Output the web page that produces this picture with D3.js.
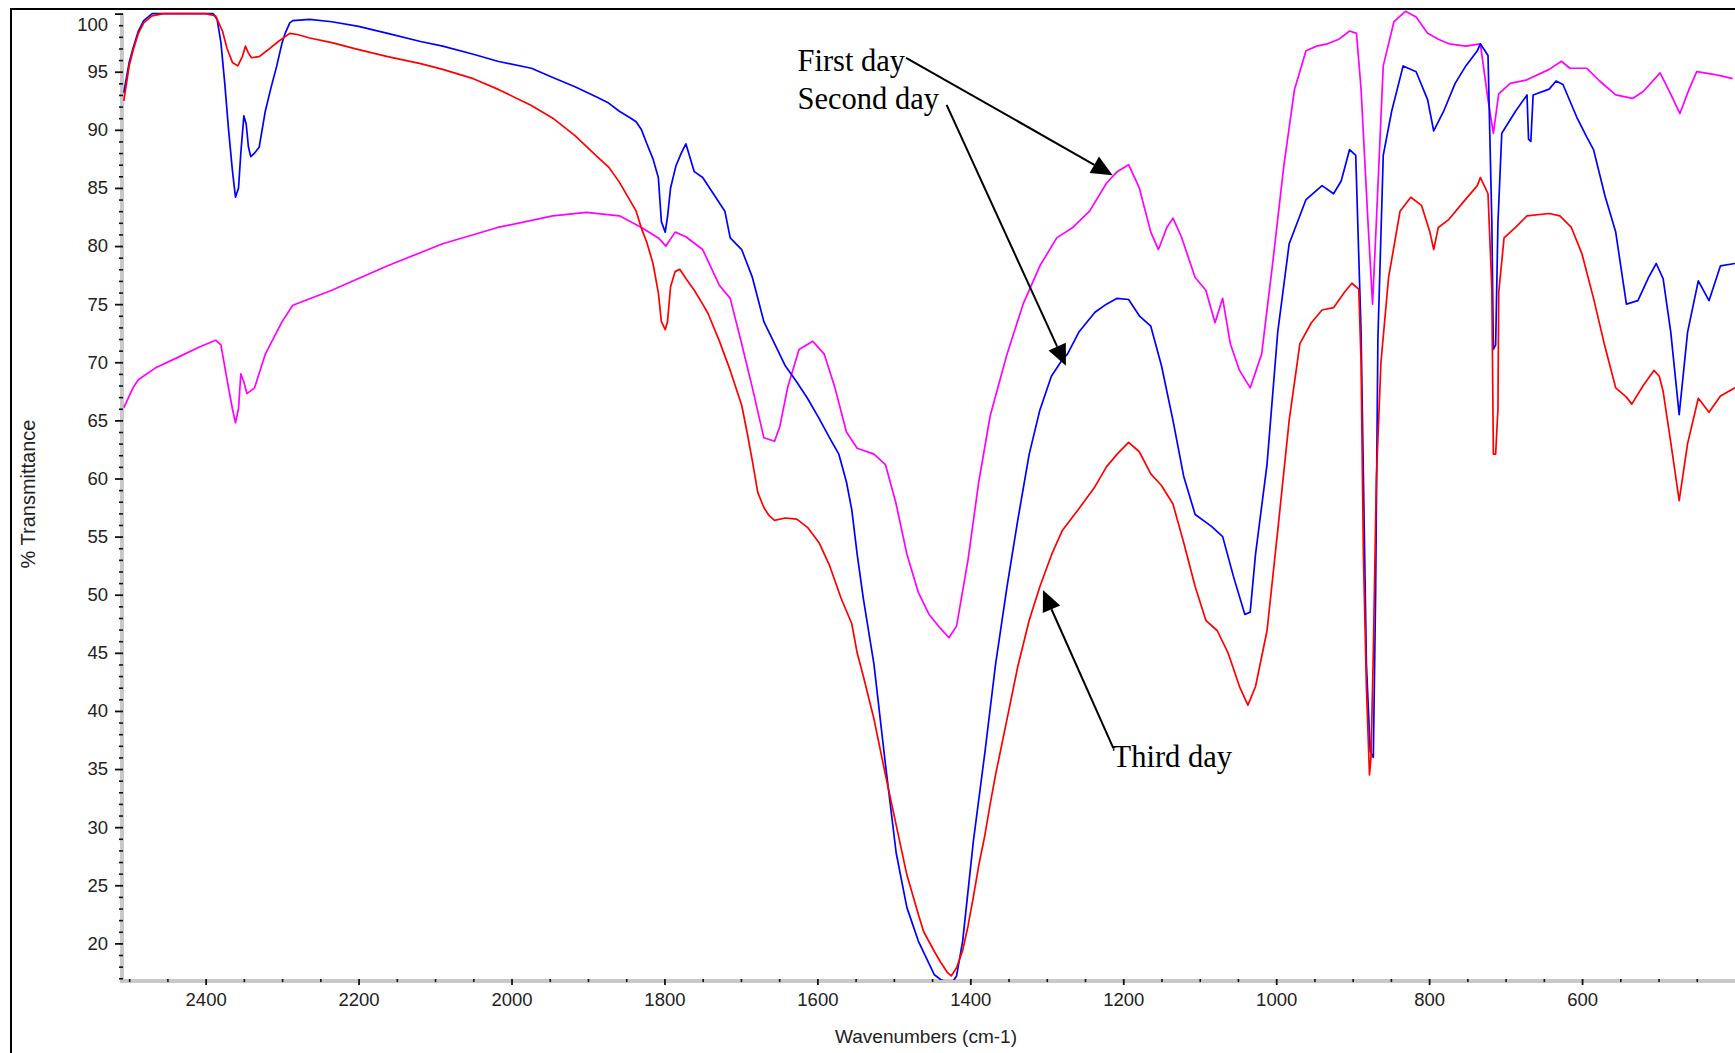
<!DOCTYPE html>
<html>
<head>
<meta charset="utf-8">
<script src="https://cdn.jsdelivr.net/npm/d3@7/dist/d3.min.js"></script>
<style>
  html, body { margin: 0; padding: 0; background: #fff; }
  svg { display: block; }
</style>
</head>
<body>
<svg id="chart" width="1735" height="1053"></svg>
<script>
// ---------------- DATA ----------------
const xMajorTicks = [2400, 2200, 2000, 1800, 1600, 1400, 1200, 1000, 800, 600];
const yMajorTicks = [20, 25, 30, 35, 40, 45, 50, 55, 60, 65, 70, 75, 80, 85, 90, 95, 100];
const xTitle = "Wavenumbers (cm-1)";
const yTitle = "% Transmittance";
const seriesNames = ["First day", "Second day", "Third day"];

// [wavenumber cm-1, %T]
const firstDay = [
  [2507,66.1],[2495,67.8],[2488,68.5],[2466,69.5],[2437,70.4],[2409,71.3],[2387,71.9],[2380,71.5],
  [2372,68.5],[2365,66],[2361,64.8],[2357,66],[2354,69],[2350,68.3],[2346,67.3],[2336,67.8],
  [2322,70.7],[2300,73.5],[2286,74.9],[2235,76.2],[2162,78.3],[2090,80.2],[2018,81.6],[1946,82.6],
  [1902,82.9],[1859,82.6],[1830,81.6],[1808,80.7],[1798,80],[1786,81.2],[1772,80.8],[1750,79.7],
  [1728,76.6],[1714,75.5],[1699,71.6],[1685,67.8],[1670,63.5],[1656,63.2],[1649,64.5],[1639,67.8],
  [1624,71.1],[1606,71.8],[1591,70.7],[1577,67.8],[1562,64],[1548,62.6],[1526,62.1],[1511,61.2],
  [1497,57.8],[1483,53.5],[1468,50.2],[1454,48.3],[1439,47.1],[1428,46.3],[1418,47.3],[1403,53],
  [1389,59.7],[1374,65.4],[1352,70.7],[1331,75],[1309,78.3],[1287,80.7],[1266,81.6],[1244,83],
  [1222,85.4],[1208,86.4],[1193,87],[1179,85],[1164,81.2],[1154,79.7],[1143,81.6],[1135,82.4],
  [1124,80.8],[1106,77.3],[1092,76.2],[1080,73.4],[1070,75.5],[1060,71.6],[1048,69.3],[1034,67.8],
  [1019,70.7],[1005,78.3],[990,86.9],[976,93.5],[961,96.8],[947,97.2],[933,97.4],[918,97.8],
  [904,98.5],[895,98.3],[889,93.5],[880,82.1],[874,75],[869,82.1],[860,95.5],[846,99.3],
  [831,100.2],[817,99.7],[802,98.3],[788,97.8],[774,97.4],[752,97.2],[733,97.4],[723,92.6],
  [716,89.7],[709,93.1],[694,94],[672,94.3],[643,95.2],[627,95.9],[616,95.3],[594,95.3],
  [577,94.2],[556,93],[534,92.7],[520,93.3],[498,94.9],[485,93.2],[472,91.4],[460,93.5],
  [450,95],[430,94.8],[415,94.6],[403,94.4]
];

const secondDay = [
  [2507,93.2],[2500,95.8],[2495,97],[2488,98.5],[2481,99.4],[2470,100],[2455,100],[2400,100],
  [2390,100],[2385,99.5],[2380,97.5],[2375,94],[2370,90],[2365,86.5],[2361,84.2],[2357,85],
  [2354,88],[2350,91.2],[2347,90.5],[2344,88.5],[2341,87.7],[2336,88],[2330,88.5],[2322,91.6],
  [2315,93.5],[2307,95.5],[2300,97.5],[2296,98.3],[2290,99.2],[2286,99.4],[2264,99.5],[2235,99.3],
  [2200,98.9],[2162,98.3],[2119,97.6],[2090,97.2],[2050,96.5],[2018,95.9],[1974,95.3],[1946,94.5],
  [1917,93.7],[1888,92.8],[1873,92.3],[1859,91.6],[1844,91],[1837,90.7],[1830,90],[1823,88.8],
  [1815,87.5],[1808,85.9],[1804,82.1],[1799,81.2],[1796,82.5],[1792,85],[1785,86.9],[1778,88],
  [1772,88.8],[1766,87.5],[1761,86.4],[1750,85.9],[1736,84.5],[1721,83],[1714,80.7],[1699,79.7],
  [1685,77.3],[1670,73.5],[1656,71.6],[1642,69.7],[1627,68.3],[1613,66.9],[1598,65.2],[1584,63.5],
  [1572,62.1],[1562,59.7],[1555,57.3],[1548,53.5],[1540,49.7],[1526,44],[1511,35.4],[1497,27.8],
  [1483,23.1],[1468,20.2],[1447,17.3],[1439,16.9],[1425,16.5],[1418,17.2],[1410,20.2],[1396,28.8],
  [1381,36.4],[1367,44],[1352,50.7],[1338,56.4],[1323,62.1],[1309,65.9],[1294,68.8],[1280,70.2],
  [1273,70.7],[1258,72.6],[1237,74.3],[1222,75],[1208,75.5],[1193,75.4],[1179,74],[1164,73.1],
  [1150,69.7],[1135,65],[1121,60.2],[1106,56.9],[1085,55.9],[1070,55],[1056,51.6],[1041,48.3],
  [1034,48.5],[1027,53.5],[1012,61.2],[998,72.6],[983,80.2],[961,84],[940,85.2],[925,84.5],
  [915,85.6],[904,88.3],[896,87.8],[889,72.6],[882,44],[877,36.5],[873,36],[870,50],
  [867,72],[860,87.8],[849,91.6],[834,95.5],[817,95],[802,92.6],[794,89.9],[781,91.6],
  [766,94],[752,95.5],[737,96.8],[733,97.4],[723,96.4],[718,82.1],[716,71.1],[713,71.5],
  [710,82],[705,89.7],[687,91.6],[672,93],[670,89.2],[667,89],[664,93],[643,93.5],
  [634,94.2],[625,93.9],[607,91.1],[594,89.4],[585,88.3],[570,84.3],[556,81.2],[542,75],
  [527,75.3],[513,77.3],[503,78.5],[494,77.2],[484,72.6],[473,65.5],[462,72.6],[448,77],
  [434,75.3],[419,78.3],[400,78.5]
];

const thirdDay = [
  [2507,92.5],[2500,95.5],[2495,96.8],[2488,98.3],[2481,99.2],[2470,99.8],[2455,100],[2420,100],
  [2400,100],[2387,99.8],[2378,98.5],[2372,97],[2365,95.8],[2358,95.5],[2352,96.3],[2348,97.2],
  [2344,96.6],[2340,96.2],[2330,96.3],[2320,96.8],[2305,97.6],[2290,98.3],[2280,98.2],[2264,97.9],
  [2235,97.5],[2200,96.9],[2162,96.3],[2119,95.7],[2090,95.2],[2050,94.4],[2018,93.5],[1974,92.1],
  [1946,91],[1917,89.5],[1888,87.7],[1873,86.8],[1859,85.5],[1844,83.8],[1837,83],[1830,81.5],
  [1823,80.3],[1815,78.5],[1808,76],[1804,73.5],[1799,72.8],[1796,73.5],[1792,76.5],[1786,77.8],
  [1780,78],[1772,77.2],[1761,76.2],[1750,75],[1743,74.2],[1728,71.8],[1714,69.3],[1699,66.3],
  [1692,64],[1685,61.5],[1678,58.8],[1670,57.5],[1663,56.8],[1656,56.4],[1642,56.6],[1627,56.5],
  [1613,55.8],[1598,54.5],[1584,52.5],[1569,49.7],[1562,48.6],[1555,47.5],[1548,45],[1540,43],
  [1526,39.3],[1511,34.5],[1497,30.2],[1483,25.9],[1468,22.5],[1461,21],[1447,19.3],[1439,18.4],
  [1430,17.5],[1425,17.2],[1418,17.9],[1410,19.4],[1403,21.5],[1396,24],[1389,26.7],[1381,29.3],
  [1374,32],[1367,34.5],[1352,39.3],[1338,43.8],[1323,47.8],[1309,50.7],[1294,53.4],[1280,55.5],
  [1258,57.4],[1237,59.3],[1222,61],[1208,62.1],[1193,63.1],[1179,62.3],[1164,60.4],[1150,59.4],
  [1135,57.8],[1121,54.5],[1106,50.7],[1092,47.8],[1077,46.9],[1063,45],[1048,42.1],[1037,40.5],
  [1027,42.1],[1012,46.9],[998,55.5],[983,65],[969,71.6],[954,73.4],[940,74.5],[925,74.7],
  [911,76],[901,76.8],[892,76.3],[889,70],[886,53.6],[882,42],[878,34.5],[876,36],
  [873,45],[869,60],[863,70],[853,77.3],[838,83],[824,84.2],[810,83.5],[799,81.2],
  [794,79.7],[788,81.6],[774,82.3],[759,83.5],[737,85.2],[733,85.9],[723,84.5],[718,76.4],
  [716,62.1],[713,62.1],[710,66],[709,76],[702,80.7],[687,81.6],[672,82.6],[643,82.8],
  [629,82.6],[614,81.6],[600,79.3],[585,75.5],[571,71.6],[556,67.8],[542,67],[535,66.4],
  [520,68],[506,69.3],[499,68.8],[494,67.5],[484,63.1],[473,58.1],[462,63],[448,66.9],
  [434,65.7],[419,67.1],[400,67.8]
];

// annotation anchors in data units: label start [wn, %T], tail [wn, %T], tip [wn, %T]
const annLabelPos = [[1626, 95.1], [1626, 91.8], [1214, 35.2]];
const annTail = [[1484, 96.2], [1431, 92.15], [1213, 36.8]];
const annTip = [[1214, 86.1], [1275, 69.7], [1305, 50.4]];

// ---------------- DRAW ----------------
const svg = d3.select("#chart");
const W = 1735, H = 1053;
const x = d3.scaleLinear().domain([2512, 400]).range([120, 1735]);
const y = d3.scaleLinear().domain([16.85, 100]).range([980, 13.6]);

const tickFont = "'Liberation Sans', Arial, sans-serif";
const colors = ["#ff00ff", "#0000ff", "#ff0000"];

// outer frame
svg.append("rect").attr("x", 11).attr("y", 9).attr("width", W).attr("height", H)
  .attr("fill", "none").attr("stroke", "#000").attr("stroke-width", 2);

// gray axis bars
svg.append("rect").attr("x", 120).attr("y", y(100)).attr("width", 4).attr("height", y.range()[0] - y(100) + 3)
  .attr("fill", "#c8c8c8");
svg.append("rect").attr("x", 120).attr("y", 979).attr("width", W - 120).attr("height", 4)
  .attr("fill", "#c8c8c8");

// Y axis minor
const yMinor = d3.range(17, 101, 1).filter(v => v % 5 !== 0);
svg.append("g").attr("transform", "translate(123,0)")
  .call(d3.axisLeft(y).tickValues(yMinor).tickSize(4).tickFormat(""))
  .call(g => g.select(".domain").remove())
  .call(g => g.selectAll("line").attr("stroke", "#111").attr("stroke-width", 1.6));

// Y axis major
const yAxisG = svg.append("g").attr("transform", "translate(123,0)")
  .call(d3.axisLeft(y).tickValues(yMajorTicks).tickSize(8).tickPadding(7).tickFormat(d3.format("d")))
  .call(g => g.select(".domain").remove())
  .call(g => g.selectAll("line").attr("stroke", "#111").attr("stroke-width", 1.8))
  .call(g => g.selectAll("text").attr("font-family", tickFont).attr("font-size", 18.5).attr("fill", "#222"));
yAxisG.selectAll(".tick").filter(d => d === 100).select("text").attr("y", 11);

// X axis minor
const xMinor = d3.range(450, 2501, 50).filter(v => v % 200 !== 0);
svg.append("g").attr("transform", "translate(0,979)")
  .call(d3.axisBottom(x).tickValues(xMinor).tickSize(3).tickFormat(""))
  .call(g => g.select(".domain").remove())
  .call(g => g.selectAll("line").attr("stroke", "#111").attr("stroke-width", 1.6));

// X axis major
svg.append("g").attr("transform", "translate(0,979)")
  .call(d3.axisBottom(x).tickValues(xMajorTicks).tickSize(6).tickPadding(8).tickFormat(d3.format("d")))
  .call(g => g.select(".domain").remove())
  .call(g => g.selectAll("line").attr("stroke", "#111").attr("stroke-width", 1.8))
  .call(g => g.selectAll("text").attr("font-family", tickFont).attr("font-size", 18.5).attr("fill", "#222"));

// axis titles
svg.append("text").attr("x", 926).attr("y", 1043).attr("text-anchor", "middle")
  .attr("font-family", tickFont).attr("font-size", 19).attr("fill", "#222").text(xTitle);
svg.append("text").attr("transform", "translate(35,494) rotate(-90)").attr("text-anchor", "middle")
  .attr("font-family", tickFont).attr("font-size", 20).attr("fill", "#222").text(yTitle);

// clip
svg.append("clipPath").attr("id", "plotclip").append("rect")
  .attr("x", 120).attr("y", 10).attr("width", W - 120).attr("height", 980 - 10);

const line = d3.line().x(d => x(d[0])).y(d => y(d[1])).curve(d3.curveLinear);
const plot = svg.append("g").attr("clip-path", "url(#plotclip)");
[firstDay, secondDay, thirdDay].forEach((s, i) => {
  plot.append("path").datum(s).attr("d", line)
    .attr("fill", "none").attr("stroke", colors[i]).attr("stroke-width", 1.7)
    .attr("stroke-linejoin", "round");
});

// annotations
const serif = "'Liberation Serif', 'Times New Roman', serif";
seriesNames.forEach((name, i) => {
  const [lx, ly] = [x(annLabelPos[i][0]), y(annLabelPos[i][1])];
  svg.append("text").attr("x", lx).attr("y", ly).attr("font-family", serif)
    .attr("font-size", 30.5).attr("fill", "#000").text(name);
  const x1 = x(annTail[i][0]), y1 = y(annTail[i][1]);
  const x2 = x(annTip[i][0]), y2 = y(annTip[i][1]);
  const dx = x2 - x1, dy = y2 - y1, len = Math.hypot(dx, dy);
  const ux = dx / len, uy = dy / len;
  const L = 21, hw = 9.5;
  const bx = x2 - ux * L, by = y2 - uy * L;
  svg.append("line").attr("x1", x1).attr("y1", y1).attr("x2", bx).attr("y2", by)
    .attr("stroke", "#000").attr("stroke-width", 2);
  svg.append("path")
    .attr("d", `M${x2},${y2}L${bx - uy * hw},${by + ux * hw}L${bx + uy * hw},${by - ux * hw}Z`)
    .attr("fill", "#000");
});
</script>
</body>
</html>
